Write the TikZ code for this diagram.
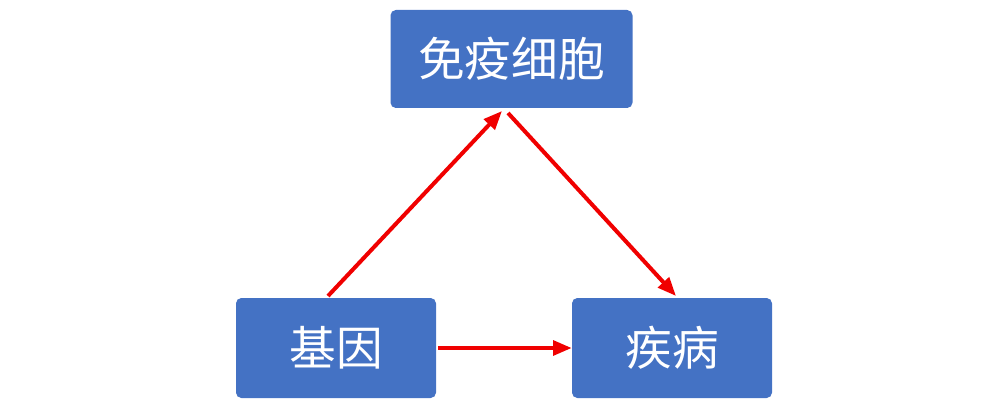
\documentclass[tikz,border=0pt]{standalone}
\usepackage{fontspec}
\newfontfamily\cjk{Noto Sans CJK SC}
\usetikzlibrary{arrows.meta}
\begin{document}
\begin{tikzpicture}[x=0.75pt,y=-0.75pt,
  box/.style={draw=none,fill={rgb,255:red,68;green,114;blue,196},rounded corners=4pt,text=white,font=\cjk\fontsize{35}{40}\selectfont,inner sep=0pt},
  arr/.style={draw={rgb,255:red,240;green,0;blue,0},line width=3pt,-{Triangle[length=14pt,width=11pt]}}]
\useasboundingbox (0,0) rectangle (1000,406);
\node[box,minimum width=181.5pt,minimum height=73.5pt] (top) at (511.5,59) {免疫细胞};
\node[box,minimum width=150pt,minimum height=75pt] (gene) at (336,348) {基因};
\node[box,minimum width=150pt,minimum height=75pt] (dis) at (672,348) {疾病};
\coordinate (a1) at (328,296);
\coordinate (a2) at (502,111);
\coordinate (b1) at (508,113);
\coordinate (b2) at (676,296);
\draw[arr] (a1) -- (a2);
\draw[arr] (b1) -- (b2);
\draw[arr] (gene.east) ++(2,0) -- (dis.west);
\end{tikzpicture}
\end{document}
